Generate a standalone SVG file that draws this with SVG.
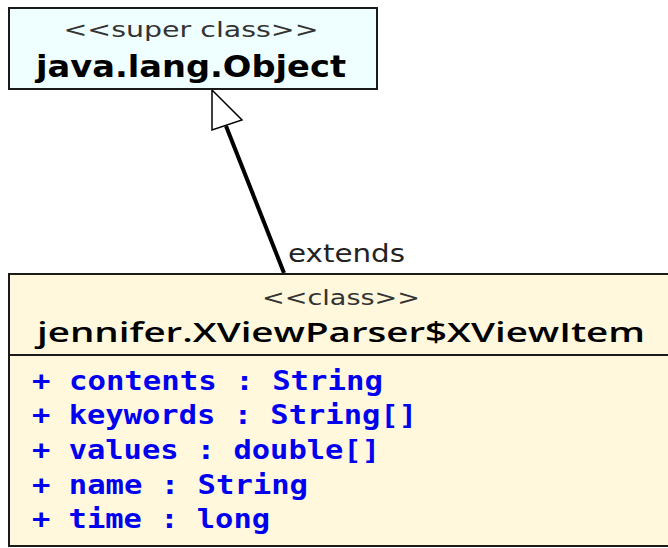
<svg xmlns="http://www.w3.org/2000/svg" width="668" height="548" viewBox="0 0 668 548">
<style>
.box{stroke:#1a1a1a;stroke-width:2}
.stereo{font-family:"DejaVu Sans","Liberation Sans",sans-serif;fill:#333;text-anchor:middle}
.name{font-family:"DejaVu Sans","Liberation Sans",sans-serif;fill:#000;text-anchor:middle}
.field{font-family:"DejaVu Sans Mono","Liberation Mono",monospace;font-weight:bold;fill:#0000ee;font-size:26px}
.lbl{font-family:"DejaVu Sans","Liberation Sans",sans-serif;fill:#222;font-size:24px}
</style>
<rect width="668" height="548" fill="#fff"/>
<g id="connectors">
<line x1="284" y1="273" x2="226" y2="126" stroke="#000" stroke-width="4"/>
<polygon points="212,90 212,130 242,120" fill="#fff" stroke="#000" stroke-width="1.5"/>
<text class="lbl" x="288" y="262" textLength="117" lengthAdjust="spacingAndGlyphs">extends</text>
</g>
<g id="node-object">
<rect class="box" x="9" y="8" width="368" height="81" fill="#effefe"/>
<text class="stereo" x="191" y="37" font-size="22" textLength="255" lengthAdjust="spacingAndGlyphs">&lt;&lt;super class&gt;&gt;</text>
<text class="name" x="191" y="77" font-size="30" font-weight="bold" textLength="310" lengthAdjust="spacingAndGlyphs">java.lang.Object</text>
</g>
<g id="node-xviewitem">
<rect class="box" x="9" y="274" width="670" height="272" fill="#fff8dc"/>
<line class="box" x1="9" y1="355" x2="679" y2="355"/>
<text class="stereo" x="341" y="305" font-size="22" textLength="158" lengthAdjust="spacingAndGlyphs">&lt;&lt;class&gt;&gt;</text>
<text x="341" y="342" font-family="'Open Sans','DejaVu Sans',sans-serif" font-size="27" font-weight="600" text-anchor="middle" fill="#000" textLength="608" lengthAdjust="spacingAndGlyphs">jennifer.XViewParser$XViewItem</text>
<text class="field" x="32" y="390" textLength="351" lengthAdjust="spacingAndGlyphs">+ contents : String</text>
<text class="field" x="32" y="424" textLength="385" lengthAdjust="spacingAndGlyphs">+ keywords : String[]</text>
<text class="field" x="32" y="459" textLength="348" lengthAdjust="spacingAndGlyphs">+ values : double[]</text>
<text class="field" x="32" y="494" textLength="276" lengthAdjust="spacingAndGlyphs">+ name : String</text>
<text class="field" x="32" y="528" textLength="238" lengthAdjust="spacingAndGlyphs">+ time : long</text>
</g>
</svg>
